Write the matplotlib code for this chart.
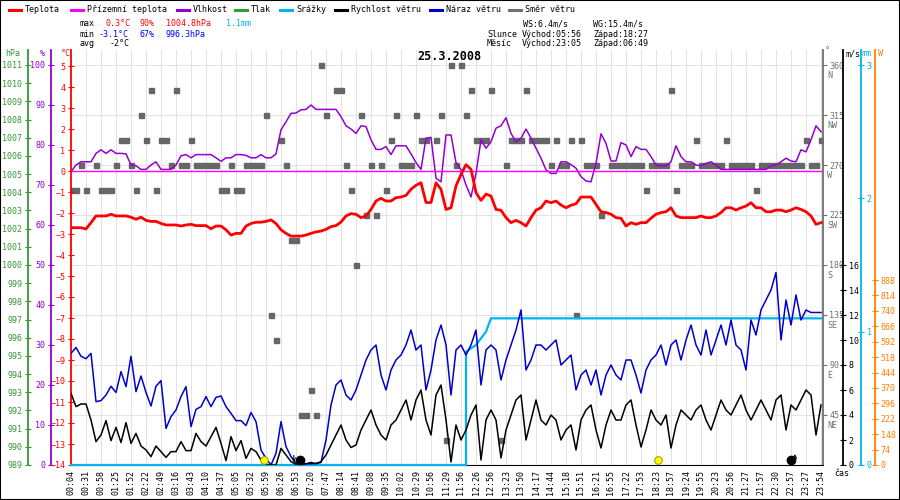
import numpy as np
import matplotlib
matplotlib.use('Agg')
import matplotlib.pyplot as plt
from matplotlib.lines import Line2D
from matplotlib.patches import Rectangle

plt.rcParams['font.family'] = ['DejaVu Sans Mono']
plt.rcParams['font.size'] = 6

# --- data (one sample every ~9.5 min, tick label every 3 samples) ---
times = ['00:04', '00:31', '00:58', '01:25', '01:52', '02:22', '02:49', '03:16', '03:43', '04:10',
         '04:37', '05:05', '05:32', '05:59', '06:26', '06:53', '07:20', '07:47', '08:14', '08:41',
         '09:08', '09:35', '10:02', '10:29', '10:56', '11:29', '11:56', '12:26', '12:56', '13:23',
         '13:50', '14:17', '14:44', '15:18', '15:51', '16:21', '16:55', '17:22', '17:53', '18:23',
         '18:57', '19:24', '19:55', '20:23', '20:56', '21:27', '21:57', '22:30', '22:57', '23:27',
         '23:54']

temp = [-2.70, -2.70, -2.70, -2.76, -2.46, -2.14, -2.14, -2.14, -2.06, -2.14,
        -2.14, -2.14, -2.20, -2.30, -2.20, -2.35, -2.40, -2.40, -2.50, -2.57,
        -2.57, -2.57, -2.62, -2.57, -2.54, -2.60, -2.60, -2.60, -2.75, -2.62,
        -2.62, -2.80, -3.05, -2.97, -2.97, -2.62, -2.50, -2.44, -2.44, -2.40,
        -2.33, -2.50, -2.80, -2.97, -3.10, -3.10, -3.10, -3.05, -2.97, -2.90,
        -2.86, -2.78, -2.65, -2.60, -2.43, -2.14, -2.03, -2.06, -2.22, -2.14,
        -1.83, -1.43, -1.30, -1.43, -1.43, -1.27, -1.24, -1.16, -0.87, -0.68,
        -0.56, -1.50, -1.50, -0.56, -0.87, -1.83, -1.75, -0.71, -0.16, 0.30,
        0.08, -1.03, -1.40, -1.10, -1.19, -1.83, -1.87, -2.22, -2.46, -2.35,
        -2.46, -2.62, -2.22, -1.86, -1.75, -1.43, -1.51, -1.43, -1.62, -1.75,
        -1.63, -1.56, -1.24, -1.24, -1.24, -1.59, -1.94, -1.98, -2.06, -2.22,
        -2.25, -2.62, -2.46, -2.54, -2.46, -2.46, -2.25, -2.06, -1.98, -1.94,
        -1.75, -2.14, -2.22, -2.22, -2.22, -2.22, -2.14, -2.22, -2.22, -2.14,
        -1.98, -1.75, -1.75, -1.86, -1.75, -1.67, -1.51, -1.75, -1.75, -1.94,
        -1.94, -1.86, -1.86, -1.94, -1.86, -1.75, -1.83, -1.94, -2.14, -2.54,
        -2.46]

ground_temp = [0.0] * len(temp)  # prizemni teplota drzi na 0 cely den

humidity = [73.3, 75.0, 75.8, 75.8, 75.8, 77.9, 78.8, 77.9, 78.8, 77.9,
            77.9, 77.8, 75.0, 74.8, 73.9, 73.9, 75.0, 75.8, 73.9, 73.9,
            73.9, 75.0, 77.3, 77.6, 76.8, 77.6, 77.6, 77.6, 77.6, 76.8,
            75.9, 76.8, 76.8, 77.6, 77.6, 77.4, 76.8, 76.8, 77.6, 76.8,
            76.8, 77.8, 83.8, 85.8, 87.9, 88.0, 88.8, 88.9, 90.0, 88.9,
            88.9, 88.9, 88.9, 88.9, 87.1, 84.8, 84.0, 82.9, 84.8, 84.6,
            81.3, 78.9, 78.9, 79.6, 77.6, 79.8, 79.8, 79.8, 77.8, 75.6,
            73.9, 81.7, 81.9, 71.7, 70.8, 82.5, 82.5, 75.6, 73.8, 70.0,
            67.0, 72.9, 81.3, 79.2, 80.8, 84.2, 84.8, 86.8, 82.9, 80.8,
            81.7, 84.0, 81.7, 79.2, 76.7, 73.8, 72.9, 72.9, 75.8, 75.8,
            75.1, 74.2, 72.1, 71.0, 70.8, 75.4, 82.8, 80.4, 76.0, 76.0,
            80.6, 80.0, 77.1, 79.6, 78.9, 78.9, 77.1, 75.0, 74.8, 74.8,
            75.8, 79.8, 77.1, 75.8, 75.8, 75.0, 74.8, 75.4, 75.8, 75.0,
            73.9, 73.9, 73.9, 73.9, 73.9, 73.9, 73.9, 73.9, 73.9, 73.9,
            74.8, 75.0, 75.8, 76.7, 76.0, 75.8, 78.8, 78.3, 81.3, 84.8,
            83.3]

wind_speed = [5.73, 4.67, 4.88, 4.88, 3.60, 1.87, 2.40, 3.55, 1.95, 3.01,
              1.80, 3.39, 1.73, 2.53, 1.52, 1.20, 0.67, 1.52, 1.07, 0.61,
              1.07, 1.07, 1.87, 1.15, 1.15, 2.53, 1.87, 1.52, 2.27, 3.01,
              1.73, 0.35, 2.27, 1.15, 1.95, 0.53, 1.33, 1.07, 0.40, 0.00,
              0.00, 0.00, 1.33, 0.80, 0.27, 0.05, 0.00, 0.10, 0.20, 0.10,
              0.27, 0.80, 1.60, 2.40, 3.20, 2.00, 1.40, 1.60, 2.80, 3.60,
              4.40, 3.20, 2.40, 2.00, 3.20, 3.60, 4.40, 5.20, 3.60, 5.20,
              6.00, 3.60, 2.40, 5.60, 6.40, 3.60, 0.24, 3.20, 2.00, 2.80,
              4.00, 4.80, 0.40, 3.60, 4.40, 3.60, 0.56, 2.80, 4.00, 5.20,
              5.60, 2.00, 3.60, 5.20, 3.60, 3.20, 4.00, 3.60, 2.00, 2.80,
              3.20, 1.20, 3.60, 4.40, 4.80, 2.80, 1.36, 3.20, 4.40, 3.60,
              3.60, 4.80, 5.20, 3.20, 1.44, 2.80, 4.40, 3.60, 3.20, 4.00,
              1.36, 3.20, 4.40, 4.00, 3.60, 4.40, 4.80, 3.60, 2.80, 4.00,
              5.20, 4.40, 4.00, 4.80, 5.60, 4.40, 3.60, 4.40, 5.20, 4.40,
              3.60, 5.20, 5.60, 2.80, 4.80, 4.40, 5.20, 6.00, 5.60, 2.40,
              4.80]

wind_gust = [8.93, 9.40, 8.70, 8.50, 8.93, 5.07, 5.15, 5.60, 6.30, 5.80,
             7.47, 6.27, 8.70, 5.87, 7.12, 5.80, 4.72, 6.30, 6.75, 2.93,
             3.87, 4.40, 5.47, 6.27, 3.07, 4.45, 4.67, 5.47, 4.67, 5.41,
             5.52, 4.67, 4.13, 3.55, 3.55, 3.15, 4.20, 3.47, 1.20, 0.53,
             0.00, 0.93, 3.47, 1.47, 0.67, 0.13, 0.13, 0.10, 0.10, 0.13,
             0.20, 2.00, 4.80, 6.40, 6.80, 5.60, 5.20, 6.00, 7.20, 8.40,
             9.20, 9.60, 7.20, 6.00, 7.60, 8.40, 8.80, 9.60, 10.8, 9.20,
             9.60, 6.00, 7.60, 10.0, 11.2, 9.60, 5.60, 9.20, 9.60, 8.80,
             9.60, 10.8, 6.40, 9.20, 9.60, 9.20, 6.80, 8.40, 9.60, 10.8,
             12.4, 7.60, 8.40, 9.60, 9.60, 9.20, 9.60, 10.0, 8.00, 8.40,
             8.80, 6.00, 7.20, 7.60, 6.40, 7.60, 5.60, 7.20, 8.00, 7.20,
             6.80, 8.40, 8.40, 7.20, 5.76, 7.60, 8.40, 8.80, 9.60, 8.00,
             9.60, 10.0, 8.40, 10.0, 11.2, 9.60, 8.80, 10.8, 8.80, 10.0,
             11.2, 9.60, 11.6, 9.60, 9.20, 7.60, 11.6, 10.4, 12.4, 13.2,
             14.0, 15.4, 10.0, 13.2, 11.2, 13.6, 11.6, 12.4, 12.2, 12.2,
             12.2]

nan = float('nan')
wind_dir = [247.5, 247.5, 270, 247.5, nan, 270, 247.5, 247.5, 247.5, 270,
            292.5, 292.5, 270, 247.5, 315, 292.5, 337.5, 247.5, 292.5, 292.5,
            270, 337.5, 270, 270, 292.5, 270, 270, 270, 270, 270,
            247.5, 247.5, 270, 247.5, 247.5, 270, 270, 270, 270, 315,
            135, 112.5, 292.5, 270, 202.5, 202.5, 45, 45, 67.5, 45,
            360, 315, nan, 337.5, 337.5, 270, 247.5, 180, 315, 225,
            270, 225, 270, 247.5, 292.5, 315, 270, 270, 270, 315,
            292.5, 292.5, nan, 292.5, 315, 22.5, 360, 270, 360, 315,
            337.5, 292.5, 292.5, 292.5, 337.5, nan, 22.5, 270, 292.5, 292.5,
            292.5, 337.5, 292.5, 292.5, 292.5, 292.5, 270, 292.5, 270, 270,
            292.5, 135, 292.5, 270, 270, 270, 225, nan, 270, 270,
            270, 270, 270, 270, 270, 247.5, 270, 270, 270, 270,
            337.5, 247.5, 270, 270, 270, 292.5, 270, 270, 270, 270,
            270, 292.5, 270, 270, 270, 270, 270, 247.5, 270, 270,
            270, 270, 270, 270, 270, 270, 270, 292.5, 270, 270,
            292.5]

# kumulativni srazky - jen zlomove body
rain_idx = [0, 79, 79, 81, 83, 84, 150]
rain_mm = [0.0, 0.0, 0.85, 0.9, 1.0, 1.1, 1.1]

sun_times = ['05:56', '18:27']
moon_set, moon_rise = '06:49', '23:05'

# --- helpers ---
def minutes(t):
    h, m = t.split(':')
    return int(h) * 60 + int(m)

tick_idx = np.arange(len(times)) * 3
tick_min = [minutes(t) for t in times]

def time_to_idx(t):
    return np.interp(minutes(t), tick_min, tick_idx)

W, H = 900, 500
def fx(x):
    return x / W
def fy(y):
    return 1 - y / H

RED, MAG, PUR, GRN = '#ff0000', '#ff00ff', '#9400d3', '#339933'
CYA, BLU, GRY, ORA = '#00b4f0', '#0000cc', '#707070', '#ff8000'

fig = plt.figure(figsize=(9, 5), dpi=100)

# base axes: wind direction + grid
ax = fig.add_axes([fx(71), 35 / H, 752 / W, 415 / H])
ax.set_xlim(0, 150.4)
ax.set_ylim(0, 373.5)
ax.set_xticks(tick_idx)
ax.set_xticklabels(times, rotation=90)
ax.tick_params(axis='x', length=0, pad=3.5)
ax.grid(True, color='#e6e2e2', lw=0.8)
ax.set_axisbelow(True)
ax.plot(np.arange(len(wind_dir)), wind_dir, ls='none', marker='s', ms=3.6, color='#666666')


def twin(side, pos, color, lims):
    a = ax.twinx()
    a.set_ylim(*lims)
    for s in a.spines.values():
        s.set_visible(False)
    sp = a.spines[side]
    sp.set_visible(True)
    sp.set_position(('axes', pos))
    sp.set_color(color)
    sp.set_linewidth(1.3)
    if side == 'left':
        a.yaxis.tick_left()
    else:
        a.yaxis.tick_right()
    a.tick_params(axis='y', colors=color, direction='inout', length=4, pad=2)
    a.patch.set_visible(False)
    return a

ax_p = twin('left', (28 - 71) / 752, GRN, (989, 989 + 415 / (400 / 22)))
ax_p.set_yticks(range(989, 1012))
ax_h = twin('left', (51 - 71) / 752, PUR, (0, 103.75))
ax_h.set_yticks(range(0, 101, 10))
ax_t = twin('left', 0, RED, (-14, -14 + 415 / 21))
ax_t.set_yticks(range(-14, 6))
ax_r = twin('right', (861 - 71) / 752, CYA, (0, 415 / (400 / 3)))
ax_r.set_yticks([0, 1, 2, 3])
ax_w = twin('right', (843 - 71) / 752, 'black', (0, 33.2))
ax_w.set_yticks(range(0, 17, 2))
ax_s = twin('right', (875 - 71) / 752, ORA, (0, 415 * 888 / 185))
ax_s.set_yticks(range(0, 889, 74))

# twinx() prehodi ticky zakladni osy doleva, vratit doprava
ax.yaxis.tick_right()
ax.set_yticks(range(45, 361, 45))
ax.set_yticklabels([str(d) for d in range(45, 361, 45)])
ax.tick_params(axis='y', colors=GRY, length=3, pad=1.5)
for s in ['top', 'left']:
    ax.spines[s].set_visible(False)
ax.spines['right'].set_color(GRY)
ax.spines['right'].set_linewidth(1.3)
ax.spines['bottom'].set_color('black')
for d, name in zip(range(45, 361, 45), ['NE', 'E', 'SE', 'S', 'SW', 'W', 'NW', 'N']):
    ax.annotate(name, xy=(1, d), xycoords=('axes fraction', 'data'), xytext=(4, -10),
                textcoords='offset pixels', color=GRY, ha='left', va='center')

# series
ax_h.plot(np.arange(len(humidity)), humidity, color=PUR, lw=1.1)
ax_t.plot(np.arange(len(ground_temp)), ground_temp, color=MAG, lw=1.0)
ax_t.plot(np.arange(len(temp)), temp, color=RED, lw=2.0)
ax_r.plot(rain_idx, rain_mm, color=CYA, lw=1.6, clip_on=False)
ax_w.plot(np.arange(len(wind_gust)), wind_gust, color=BLU, lw=1.1)
ax_w.plot(np.arange(len(wind_speed)), wind_speed, color='black', lw=1.1)

# slunce a mesic
for t in sun_times:
    ax_w.plot(time_to_idx(t), 0.4, 'o', ms=5.5, mfc='#ffff00', mec='#999900', mew=0.7)
ts, tr = time_to_idx(moon_set), time_to_idx(moon_rise)
ax_w.plot(ts + 1.3, 0.4, 'o', ms=6, color='black')
ax_w.annotate('', xy=(ts, 0), xytext=(ts, 1.0), arrowprops=dict(arrowstyle='->', lw=0.7))
ax_w.plot(tr - 0.9, 0.4, 'o', ms=6, color='black')
ax_w.annotate('', xy=(tr, 1.1), xytext=(tr, 0), arrowprops=dict(arrowstyle='->', lw=0.7))

# legenda nahore
legend = [(9, RED, 'Teplota'), (71, MAG, 'Přízemní teplota'), (177, PUR, 'Vlhkost'),
          (235, GRN, 'Tlak'), (280, CYA, 'Srážky'), (335, 'black', 'Rychlost větru'),
          (430, BLU, 'Náraz větru'), (509, GRY, 'Směr větru')]
for x0, c, lab in legend:
    fig.add_artist(Line2D([fx(x0), fx(x0 + 12)], [fy(9.5)] * 2, color=c, lw=2.2))
    fig.text(fx(x0 + 16), fy(9.5), lab, va='center')

# statistiky
def t(x, y, s, c='black', **kw):
    fig.text(fx(x), fy(y), s, color=c, va='center', **kw)

t(80, 24, 'max'); t(106, 24, '0.3°C', RED); t(139, 24, '90%', RED)
t(166, 24, '1004.8hPa', RED); t(226, 24, '1.1mm', CYA)
t(80, 34, 'min'); t(99, 34, '-3.1°C', '#0000ff'); t(139, 34, '67%', '#0000ff')
t(166, 34, '996.3hPa', '#0000ff')
t(80, 44, 'avg'); t(110, 44, '-2°C')
t(523, 24, 'WS:6.4m/s'); t(593, 24, 'WG:15.4m/s')
t(487, 34, 'Slunce'); t(522, 34, 'Východ:05:56'); t(593, 34, 'Západ:18:27')
t(487, 44, 'Měsíc'); t(522, 44, 'Východ:23:05'); t(593, 44, 'Západ:06:49')

fig.text(fx(449), fy(57), '25.3.2008', ha='center', va='center', fontsize=8.5, fontweight='bold')

# hlavicky os
t(5, 53, 'hPa', GRN); t(40, 53, '%', PUR); t(61, 53, '°C', RED)
t(825, 51, '°', GRY); t(845, 54, 'm/s'); t(862, 54, 'mm', CYA); t(878, 54, 'W', ORA)
t(834, 474, 'čas')

fig.patches.append(Rectangle((0, 0), 1, 1, transform=fig.transFigure, fill=False,
                             edgecolor='black', lw=1.5))

fig.savefig('out.png', dpi=100, facecolor='white')
